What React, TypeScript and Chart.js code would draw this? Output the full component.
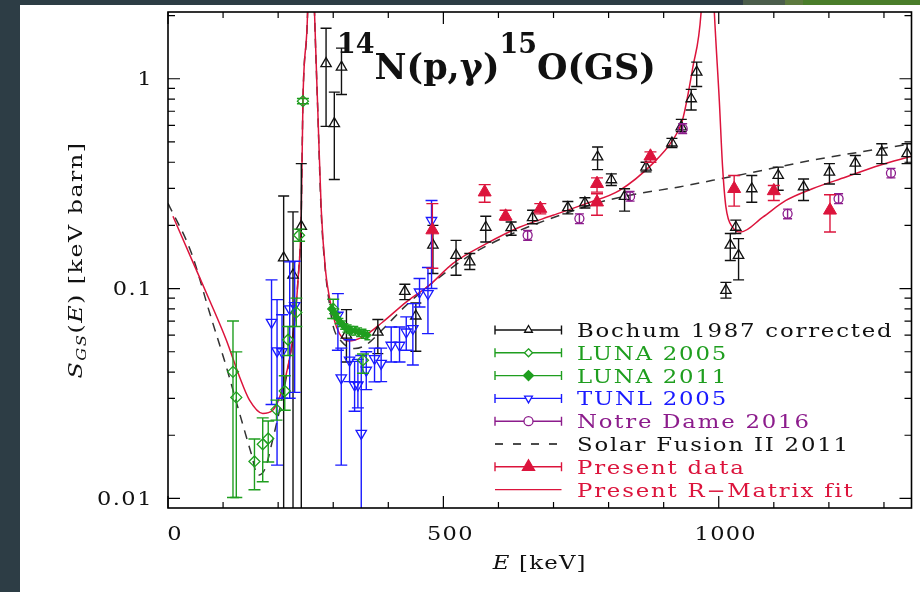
import React, { useEffect, useRef } from 'react';
import { Chart, registerables } from 'chart.js';

Chart.register(...registerables);

// ---------------- axes ----------------
const xRange = [0, 1350];
const yRange = [0.009, 2.08];
const xTicks = [0, 100, 200, 300, 400, 500, 600, 700, 800, 900, 1000, 1100, 1200, 1300];
const xLabelTicks = [0, 500, 1000];
const xTickLabels = ['0', '500', '1000'];
const yTicks = [0.01, 0.02, 0.03, 0.04, 0.05, 0.06, 0.07, 0.08, 0.09, 0.1, 0.2, 0.3, 0.4, 0.5, 0.6, 0.7, 0.8, 0.9, 1, 2];
const yLabelTicks = [0.01, 0.1, 1];
const yTickLabels = ['0.01', '0.1', '1'];

const seriesLabels = [
  'Bochum 1987 corrected',
  'LUNA 2005',
  'LUNA 2011',
  'TUNL 2005',
  'Notre Dame 2016',
  'Solar Fusion II 2011',
  'Present data',
  'Present R\u2212Matrix fit',
];

// ---------------- Bochum 1987 corrected ----------------
const bochumE = [210, 227, 242, 287, 302, 315, 324, 381, 430, 450, 481, 523, 548, 577, 623, 662, 726, 757, 780, 805, 829, 868, 915, 932, 950, 960, 1013, 1021, 1031, 1036, 1060, 1108, 1154, 1201, 1248, 1296, 1342];
const bochumS = [0.14, 0.116, 0.198, 1.18, 0.611, 1.135, 0.06, 0.062, 0.097, 0.074, 0.161, 0.144, 0.134, 0.196, 0.195, 0.218, 0.243, 0.256, 0.424, 0.33, 0.275, 0.379, 0.494, 0.59, 0.803, 1.075, 0.098, 0.161, 0.196, 0.144, 0.299, 0.346, 0.305, 0.359, 0.396, 0.447, 0.44];
const bochumLo = [0.001, 0.001, 0.001, 0.593, 0.331, 0.841, 0.0447, 0.049, 0.0886, 0.0503, 0.118, 0.1157, 0.1232, 0.1666, 0.1795, 0.2037, 0.227, 0.242, 0.369, 0.31, 0.234, 0.36, 0.47, 0.56, 0.71, 0.918, 0.09, 0.136, 0.183, 0.11, 0.258, 0.294, 0.263, 0.315, 0.35, 0.394, 0.394];
const bochumHi = [0.276, 0.232, 0.394, 1.74, 0.863, 1.4, 0.0794, 0.0712, 0.1048, 0.0854, 0.2, 0.1697, 0.147, 0.221, 0.2075, 0.236, 0.26, 0.271, 0.4725, 0.352, 0.299, 0.4, 0.52, 0.64, 0.89, 1.2, 0.107, 0.183, 0.212, 0.173, 0.346, 0.379, 0.333, 0.394, 0.431, 0.49, 0.49];

// ---------------- LUNA 2005 ----------------
const luna05E = [118, 124, 157, 172, 182, 197, 212, 218, 233, 238, 245, 300, 354];
const luna05S = [0.0401, 0.0303, 0.015, 0.0181, 0.0193, 0.0265, 0.0325, 0.057, 0.077, 0.1795, 0.782, 0.08, 0.0456];
const luna05Lo = [0.0101, 0.0101, 0.011, 0.012, 0.0149, 0.0236, 0.0263, 0.048, 0.066, 0.168, 0.76, 0.072, 0.0395];
const luna05Hi = [0.07, 0.0499, 0.0192, 0.0242, 0.0234, 0.0294, 0.0384, 0.066, 0.09, 0.192, 0.805, 0.089, 0.0488];

// ---------------- LUNA 2011 ----------------
const luna11E = [298, 303, 308, 313, 318, 322, 328, 333, 340, 347, 355, 362];
const luna11S = [0.08, 0.076, 0.072, 0.069, 0.067, 0.065, 0.064, 0.063, 0.063, 0.062, 0.061, 0.06];
const luna11Lo = [0.076, 0.072, 0.068, 0.066, 0.064, 0.062, 0.061, 0.06, 0.06, 0.059, 0.058, 0.057];
const luna11Hi = [0.084, 0.08, 0.076, 0.072, 0.07, 0.068, 0.067, 0.066, 0.066, 0.065, 0.064, 0.063];

// ---------------- TUNL 2005 ----------------
const tunlE = [188, 198, 207, 221, 230, 308.5, 314.6, 329.7, 338.8, 344.8, 350.9, 360, 375, 387, 405.3, 420.4, 432.6, 444.6, 456.7, 472, 478.5];
const tunlS = [0.069, 0.0505, 0.05, 0.08, 0.083, 0.0746, 0.0375, 0.0456, 0.0347, 0.0347, 0.0204, 0.0408, 0.0464, 0.044, 0.0537, 0.0537, 0.0621, 0.0645, 0.0963, 0.0947, 0.211];
const tunlLo = [0.028, 0.0144, 0.03, 0.03, 0.032, 0.0508, 0.0144, 0.036, 0.026, 0.027, 0.001, 0.033, 0.0359, 0.036, 0.0447, 0.0447, 0.0508, 0.0432, 0.0817, 0.061, 0.1];
const tunlHi = [0.11, 0.0886, 0.075, 0.134, 0.135, 0.0946, 0.052, 0.057, 0.045, 0.046, 0.048, 0.05, 0.052, 0.052, 0.0656, 0.0656, 0.0733, 0.0848, 0.1116, 0.126, 0.263];

// ---------------- Notre Dame 2016 ----------------
const ndE = [653, 747, 839, 934.5, 1125, 1217.6, 1312.7];
const ndS = [0.1795, 0.2155, 0.275, 0.578, 0.227, 0.268, 0.355];
const ndLo = [0.17, 0.204, 0.261, 0.548, 0.215, 0.254, 0.337];
const ndHi = [0.189, 0.227, 0.29, 0.61, 0.239, 0.283, 0.374];

// ---------------- Solar Fusion II 2011 (curve) ----------------
const sfE = [0, 42, 76, 106, 130, 151, 163, 176, 190, 209, 220, 227, 236, 242, 245, 253.5, 259, 266, 272, 278, 286, 293, 300, 315, 339, 360, 390, 430, 475, 550, 640, 700, 784, 850, 928, 989, 1050, 1170, 1350];
const sfS = [0.255, 0.149, 0.076, 0.0423, 0.0254, 0.0164, 0.0129, 0.0138, 0.019, 0.0316, 0.045, 0.06, 0.11, 0.23, 0.78, 2.08, 12, 2.08, 0.7, 0.236, 0.12, 0.085, 0.066, 0.056, 0.0518, 0.054, 0.064, 0.082, 0.104, 0.145, 0.19, 0.218, 0.258, 0.282, 0.305, 0.328, 0.353, 0.409, 0.49];

// ---------------- Present data ----------------
const presentE = [480, 575, 613, 676, 779, 779, 876, 1028, 1100, 1202];
const presentS = [0.19, 0.288, 0.221, 0.2405, 0.316, 0.258, 0.427, 0.299, 0.292, 0.236];
const presentLo = [0.125, 0.258, 0.212, 0.227, 0.288, 0.2235, 0.4, 0.247, 0.263, 0.186];
const presentHi = [0.254, 0.313, 0.236, 0.254, 0.337, 0.283, 0.448, 0.346, 0.31, 0.28];

// ---------------- Present R-Matrix fit (curve) ----------------
const fitE = [9, 45, 76, 106, 130, 148, 172, 190, 203, 215, 227, 236, 242, 245, 253.5, 257, 259, 261, 266, 272, 278.3, 286, 293, 306, 327, 354, 390, 433, 475, 517, 578, 638, 699, 759, 820, 880, 916, 934, 953, 968, 975, 980, 986, 992, 1001, 1007, 1013, 1025, 1040, 1080, 1122, 1170, 1231, 1291, 1350];
const fitS = [0.221, 0.134, 0.0873, 0.0567, 0.0379, 0.0294, 0.0254, 0.0263, 0.0305, 0.0394, 0.0589, 0.109, 0.227, 0.78, 2.08, 6, 12, 6, 2.08, 0.706, 0.236, 0.122, 0.091, 0.0656, 0.0563, 0.0589, 0.0693, 0.0864, 0.104, 0.1315, 0.1637, 0.196, 0.2234, 0.254, 0.294, 0.394, 0.508, 0.633, 1.136, 2.08, 5, 10, 5, 2.08, 0.789, 0.379, 0.245, 0.196, 0.186, 0.219, 0.263, 0.299, 0.34, 0.386, 0.427];

// ---------------- styles ----------------
const BLACK = '#111111';
const GREEN = '#1f9e1f';
const BLUE = '#1a1aff';
const PURPLE = '#8c1c8c';
const RED = '#dc143c';
const SERIF = '"DejaVu Serif", "Liberation Serif", serif';

const pts = (E: number[], S: number[]) => E.map((e, i) => ({ x: e, y: S[i] }));

function setLS(ctx: any, ls: number) {
  try { ctx.letterSpacing = ls + 'px'; } catch (e) { /* ignore */ }
}

type Seg = { t: string; font: string; dy?: number };

function drawSegs(ctx: CanvasRenderingContext2D, segs: Seg[], x: number, y: number, o: { align: string; sx: number; ls: number; color: string; rotate?: number }) {
  ctx.save();
  ctx.translate(x, y);
  if (o.rotate) ctx.rotate(o.rotate);
  ctx.scale(o.sx, 1);
  let w = 0;
  for (const s of segs) { ctx.font = s.font; setLS(ctx, o.ls); w += ctx.measureText(s.t).width; }
  let cx = o.align === 'center' ? -w / 2 : o.align === 'right' ? -w : 0;
  ctx.fillStyle = o.color;
  ctx.textBaseline = 'alphabetic';
  ctx.textAlign = 'left';
  for (const s of segs) {
    ctx.font = s.font;
    setLS(ctx, o.ls);
    ctx.fillText(s.t, cx, s.dy || 0);
    cx += ctx.measureText(s.t).width;
  }
  ctx.restore();
}

function drawMarker(ctx: CanvasRenderingContext2D, style: string, x: number, y: number, r: number, stroke: string, fill: string | null, lw: number) {
  ctx.save();
  ctx.beginPath();
  if (style === 'triangle' || style === 'triangleDown') {
    const s = style === 'triangle' ? 1 : -1;
    ctx.moveTo(x, y - s * r);
    ctx.lineTo(x + r * 0.866, y + s * r / 2);
    ctx.lineTo(x - r * 0.866, y + s * r / 2);
    ctx.closePath();
  } else if (style === 'rectRot') {
    ctx.moveTo(x, y - r);
    ctx.lineTo(x + r, y);
    ctx.lineTo(x, y + r);
    ctx.lineTo(x - r, y);
    ctx.closePath();
  } else {
    ctx.arc(x, y, r, 0, Math.PI * 2);
  }
  if (fill) { ctx.fillStyle = fill; ctx.fill(); }
  ctx.strokeStyle = stroke;
  ctx.lineWidth = lw;
  ctx.stroke();
  ctx.restore();
}

const errorBarPlugin = {
  id: 'errorBars',
  beforeDatasetDraw(chart: any, args: any) {
    const ds = chart.data.datasets[args.index];
    if (!ds.errLo) return;
    const ctx: CanvasRenderingContext2D = chart.ctx;
    const xs = chart.scales.x;
    const ys = chart.scales.y;
    const a = chart.chartArea;
    ctx.save();
    ctx.beginPath();
    ctx.rect(a.left, a.top, a.right - a.left, a.bottom - a.top);
    ctx.clip();
    ctx.strokeStyle = ds.borderColor;
    ctx.lineWidth = 1.4;
    const cw = ds.capW || 5.5;
    ds.data.forEach((p: any, i: number) => {
      const px = xs.getPixelForValue(p.x);
      const yl = ys.getPixelForValue(ds.errLo[i]);
      const yh = ys.getPixelForValue(ds.errHi[i]);
      ctx.beginPath();
      ctx.moveTo(px, yl); ctx.lineTo(px, yh);
      ctx.moveTo(px - cw, yl); ctx.lineTo(px + cw, yl);
      ctx.moveTo(px - cw, yh); ctx.lineTo(px + cw, yh);
      ctx.stroke();
    });
    ctx.restore();
  },
};

const decorPlugin = {
  id: 'decor',
  afterDraw(chart: any) {
    const ctx: CanvasRenderingContext2D = chart.ctx;
    const xs = chart.scales.x;
    const ys = chart.scales.y;
    const a = chart.chartArea;
    ctx.save();
    // ticks
    ctx.strokeStyle = '#000';
    ctx.lineWidth = 1.2;
    ctx.beginPath();
    xTicks.forEach((v) => {
      const px = xs.getPixelForValue(v);
      const len = xLabelTicks.includes(v) ? 12 : 6;
      ctx.moveTo(px, a.bottom); ctx.lineTo(px, a.bottom - len);
      ctx.moveTo(px, a.top); ctx.lineTo(px, a.top + len);
    });
    yTicks.forEach((v) => {
      const py = ys.getPixelForValue(v);
      const len = yLabelTicks.includes(v) ? 12 : 7;
      ctx.moveTo(a.left, py); ctx.lineTo(a.left + len, py);
      ctx.moveTo(a.right, py); ctx.lineTo(a.right - len, py);
    });
    ctx.stroke();
    // frame
    ctx.lineWidth = 1.6;
    ctx.strokeRect(a.left, a.top, a.right - a.left, a.bottom - a.top);

    // tick labels
    const tickFont = `18px ${SERIF}`;
    yLabelTicks.forEach((v, i) => {
      const py = ys.getPixelForValue(v);
      drawSegs(ctx, [{ t: yTickLabels[i], font: tickFont }], a.left - 15, py + 6.5, { align: 'right', sx: 1.25, ls: 1.2, color: BLACK });
    });
    xLabelTicks.forEach((v, i) => {
      const px = xs.getPixelForValue(v);
      drawSegs(ctx, [{ t: xTickLabels[i], font: tickFont }], px + 7, a.bottom + 32, { align: 'center', sx: 1.25, ls: 1, color: BLACK });
    });

    // axis titles
    const up = `19px ${SERIF}`;
    const it = `italic 19px ${SERIF}`;
    const sub = `italic 13px ${SERIF}`;
    drawSegs(ctx, [{ t: 'E', font: it }, { t: ' [keV]', font: up }], (a.left + a.right) / 2, a.bottom + 61, { align: 'center', sx: 1.2, ls: 1, color: BLACK });
    drawSegs(ctx, [
      { t: 'S', font: it },
      { t: 'GS', font: sub, dy: 4 },
      { t: '(', font: up },
      { t: 'E', font: it },
      { t: ') [keV barn]', font: up },
    ], 82, (a.top + a.bottom) / 2, { align: 'center', sx: 1.25, ls: 1.2, color: BLACK, rotate: -Math.PI / 2 });

    // title
    const tb = `bold 35px ${SERIF}`;
    const ts = `bold 27px ${SERIF}`;
    drawSegs(ctx, [
      { t: '14', font: ts, dy: -26 },
      { t: 'N(p,\u03b3)', font: tb },
      { t: '15', font: ts, dy: -26 },
      { t: 'O(GS)', font: tb },
    ], 337, 79, { align: 'left', sx: 1.0, ls: 0, color: BLACK });

    // legend
    const legendFont = `19px ${SERIF}`;
    const order = [0, 1, 2, 3, 4, 5, 6, 7];
    order.forEach((di, row) => {
      const ds = chart.data.datasets[di];
      const cy = 330 + row * 22.8;
      const x0 = 495, x1 = 561.5, xm = 528.5;
      ctx.save();
      ctx.strokeStyle = ds.legendColor;
      ctx.lineWidth = 1.4;
      if (ds.legendKind === 'err') {
        ctx.beginPath();
        ctx.moveTo(x0, cy); ctx.lineTo(x1, cy);
        ctx.moveTo(x0, cy - 4.5); ctx.lineTo(x0, cy + 4.5);
        ctx.moveTo(x1, cy - 4.5); ctx.lineTo(x1, cy + 4.5);
        ctx.stroke();
        drawMarker(ctx, ds.legendMarker, xm, cy, ds.legendR, ds.legendColor, ds.legendFill ? ds.legendColor : '#ffffff', 1.3);
      } else if (ds.legendKind === 'dash') {
        ctx.setLineDash([8, 10]);
        ctx.beginPath();
        ctx.moveTo(x0, cy); ctx.lineTo(x1, cy);
        ctx.stroke();
      } else {
        ctx.beginPath();
        ctx.moveTo(x0, cy); ctx.lineTo(x1, cy);
        ctx.stroke();
      }
      ctx.restore();
      drawSegs(ctx, [{ t: ds.label, font: legendFont }], 577, cy + 7, { align: 'left', sx: 1.2, ls: 1.5, color: ds.legendColor });
    });
    ctx.restore();
  },
};

export default function App() {
  const ref = useRef<HTMLCanvasElement>(null);
  useEffect(() => {
    const canvas = ref.current;
    if (!canvas) return;
    const transparent = 'rgba(0,0,0,0)';
    const chart = new Chart(canvas, {
      type: 'scatter',
      data: {
        datasets: [
          {
            label: seriesLabels[0], data: pts(bochumE, bochumS), errLo: bochumLo, errHi: bochumHi, capW: 5.5,
            pointStyle: 'triangle', pointRadius: 6, borderColor: BLACK, backgroundColor: transparent, borderWidth: 1.3, order: 5,
            legendKind: 'err', legendMarker: 'triangle', legendR: 4.5, legendColor: BLACK, legendFill: false,
          },
          {
            label: seriesLabels[1], data: pts(luna05E, luna05S), errLo: luna05Lo, errHi: luna05Hi, capW: 6,
            pointStyle: 'rectRot', pointRadius: 5.5, borderColor: GREEN, backgroundColor: transparent, borderWidth: 1.3, order: 4,
            legendKind: 'err', legendMarker: 'rectRot', legendR: 4, legendColor: GREEN, legendFill: false,
          },
          {
            label: seriesLabels[2], data: pts(luna11E, luna11S), errLo: luna11Lo, errHi: luna11Hi, capW: 3,
            pointStyle: 'rectRot', pointRadius: 4, borderColor: GREEN, backgroundColor: GREEN, borderWidth: 1, order: 3,
            legendKind: 'err', legendMarker: 'rectRot', legendR: 5, legendColor: GREEN, legendFill: true,
          },
          {
            label: seriesLabels[3], data: pts(tunlE, tunlS), errLo: tunlLo, errHi: tunlHi, capW: 6,
            pointStyle: 'triangle', rotation: 180, pointRadius: 6, borderColor: BLUE, backgroundColor: transparent, borderWidth: 1.3, order: 4,
            legendKind: 'err', legendMarker: 'triangleDown', legendR: 4.5, legendColor: BLUE, legendFill: false,
          },
          {
            label: seriesLabels[4], data: pts(ndE, ndS), errLo: ndLo, errHi: ndHi, capW: 4.5,
            pointStyle: 'circle', pointRadius: 4.5, borderColor: PURPLE, backgroundColor: transparent, borderWidth: 1.3, order: 2,
            legendKind: 'err', legendMarker: 'circle', legendR: 4.5, legendColor: PURPLE, legendFill: false,
          },
          {
            label: seriesLabels[5], data: pts(sfE, sfS), showLine: true, pointRadius: 0, borderColor: '#333333',
            borderDash: [9, 7], borderWidth: 1.5, cubicInterpolationMode: 'monotone', order: 10,
            legendKind: 'dash', legendColor: BLACK,
          },
          {
            label: seriesLabels[6], data: pts(presentE, presentS), errLo: presentLo, errHi: presentHi, capW: 6,
            pointStyle: 'triangle', pointRadius: 7.5, borderColor: RED, backgroundColor: RED, borderWidth: 1, order: 1,
            legendKind: 'err', legendMarker: 'triangle', legendR: 7, legendColor: RED, legendFill: true,
          },
          {
            label: seriesLabels[7], data: pts(fitE, fitS), showLine: true, pointRadius: 0, borderColor: RED,
            borderWidth: 1.5, cubicInterpolationMode: 'monotone', order: 9,
            legendKind: 'line', legendColor: RED,
          },
        ] as any,
      },
      options: {
        responsive: false,
        maintainAspectRatio: false,
        devicePixelRatio: 1,
        animation: false,
        events: [],
        layout: { padding: { left: 168, right: 8, top: 12, bottom: 84 } },
        scales: {
          x: { type: 'linear', min: xRange[0], max: xRange[1], display: false },
          y: { type: 'logarithmic', min: yRange[0], max: yRange[1], display: false },
        },
        plugins: {
          legend: { display: false },
          tooltip: { enabled: false },
          title: { display: false },
        },
      } as any,
      plugins: [errorBarPlugin, decorPlugin],
    });
    return () => chart.destroy();
  }, []);

  return (
    <div style={{ position: 'absolute', left: 0, top: 0, width: 920, height: 592, background: '#2d3d45', overflow: 'hidden' }}>
      <div style={{ position: 'absolute', left: 20, top: 5, right: 0, bottom: 0, background: '#ffffff' }} />
      <div style={{ position: 'absolute', left: 743, top: 0, width: 42, height: 5, background: '#4b5d4b' }} />
      <div style={{ position: 'absolute', left: 785, top: 0, width: 18, height: 5, background: '#5d7a3e' }} />
      <div style={{ position: 'absolute', left: 803, top: 0, width: 117, height: 5, background: '#4a7d2a' }} />
      <canvas ref={ref} width={920} height={592} style={{ position: 'absolute', left: 0, top: 0, width: 920, height: 592 }} />
    </div>
  );
}
